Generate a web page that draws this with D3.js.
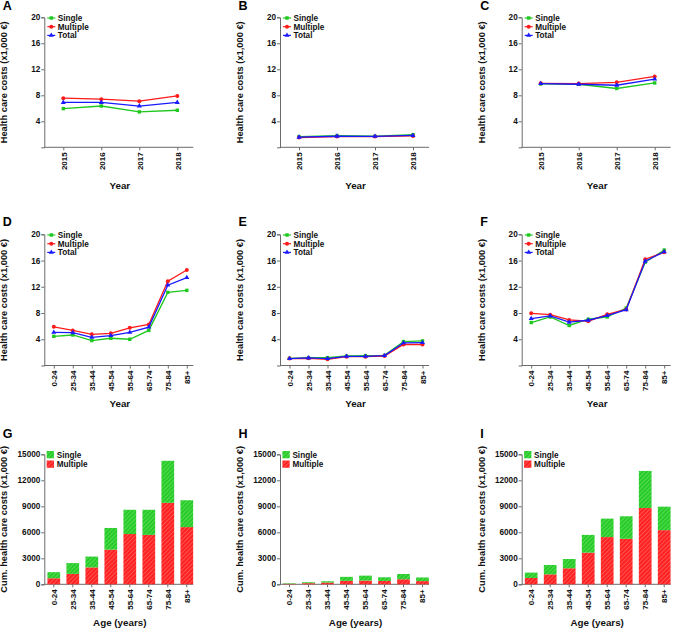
<!DOCTYPE html>
<html>
<head>
<meta charset="utf-8">
<script src="https://cdn.jsdelivr.net/npm/d3@7"></script>
<style>
  html, body { margin: 0; padding: 0; background: #fff; }
  svg { display: block; font-family: "Liberation Sans", Arial, sans-serif; font-weight: bold; }
</style>
</head>
<body>
<svg id="chart" width="676" height="630"></svg>
<script>
// ---------------- DATA ----------------
const years = ["2015", "2016", "2017", "2018"];
const ageGroups = ["0-24", "25-34", "35-44", "45-54", "55-64", "65-74", "75-84", "85+"];
const lineTicks = [4, 8, 12, 16, 20];
const barTicks = [0, 3000, 6000, 9000, 12000, 15000];

const A_single   = [5.95, 6.35, 5.45, 5.7];
const A_multiple = [7.55, 7.4, 7.1, 7.9];
const A_total    = [6.9, 6.9, 6.35, 6.9];

const B_single   = [1.65, 1.8, 1.7, 1.95];
const B_multiple = [1.5, 1.65, 1.65, 1.75];
const B_total    = [1.55, 1.7, 1.68, 1.82];

const C_single   = [9.75, 9.7, 9.05, 9.9];
const C_multiple = [9.85, 9.8, 10.0, 10.9];
const C_total    = [9.8, 9.7, 9.55, 10.5];

const D_single   = [4.45, 4.65, 3.8, 4.15, 4.0, 5.35, 11.15, 11.45];
const D_multiple = [5.9, 5.35, 4.75, 4.9, 5.75, 6.25, 12.85, 14.55];
const D_total    = [5.05, 5.0, 4.3, 4.55, 5.05, 5.85, 12.25, 13.4];

const E_single   = [1.1, 1.2, 1.2, 1.45, 1.5, 1.55, 3.65, 3.75];
const E_multiple = [1.05, 1.1, 0.95, 1.35, 1.35, 1.45, 3.2, 3.2];
const E_total    = [1.05, 1.15, 1.05, 1.4, 1.4, 1.5, 3.45, 3.5];

const F_single   = [6.55, 7.4, 6.1, 7.05, 7.4, 8.75, 15.75, 17.6];
const F_multiple = [7.95, 7.75, 6.95, 6.75, 7.8, 8.55, 16.2, 17.25];
const F_total    = [7.15, 7.55, 6.6, 6.9, 7.6, 8.5, 15.9, 17.35];

const G_multiple = [700, 1200, 1950, 4000, 5800, 5700, 9400, 6600];
const G_single   = [700, 1250, 1250, 2500, 2800, 2900, 4850, 3100];

const H_multiple = [60, 130, 200, 400, 430, 390, 580, 370];
const H_single   = [60, 110, 150, 460, 570, 420, 610, 420];

const I_multiple = [730, 1150, 1850, 3650, 5450, 5250, 8800, 6250];
const I_single   = [620, 1080, 1070, 2050, 2130, 2600, 4280, 2710];

const seriesNames = ["Single", "Multiple", "Total"];
const yTitleLine = "Health care costs (x1,000 \u20AC)";
const yTitleBar = "Cum. health care costs (x1,000 \u20AC)";

// ---------------- STYLE / LAYOUT ----------------
const colors = { Single: "#1ec81e", Multiple: "#ff1a1a", Total: "#1a1aff" };
const barColors = { Single: "#26cc26", Multiple: "#ff2020" };
const axisColor = "#6b6b6b";
const colX = [44.3, 280, 521.7];
const rowTop = [17.3, 234.3, 454.3];
const rowBottom = [147.3, 365.5, 584.3];
const plotW = 152;
const axisLen = 149;

const svg = d3.select("#chart");
const defs = svg.append("defs");
function makeHatch(id, color) {
  const p = defs.append("pattern")
    .attr("id", id).attr("patternUnits", "userSpaceOnUse")
    .attr("width", 3).attr("height", 3)
    .attr("patternTransform", "rotate(45)");
  p.append("rect").attr("width", 3).attr("height", 3).attr("fill", color);
  p.append("line").attr("x1", 0).attr("y1", 0).attr("x2", 0).attr("y2", 3)
    .attr("stroke", "#ffffff").attr("stroke-opacity", 0.5).attr("stroke-width", 0.9);
}
makeHatch("hatchSingle", barColors.Single);
makeHatch("hatchMultiple", barColors.Multiple);

function marker(g, type, x, y, color) {
  if (type === "Single") {
    g.append("rect").attr("x", x - 1.7).attr("y", y - 1.7).attr("width", 3.4).attr("height", 3.4).attr("fill", color);
  } else if (type === "Multiple") {
    g.append("circle").attr("cx", x).attr("cy", y).attr("r", 2).attr("fill", color);
  } else {
    g.append("path").attr("d", d3.symbol(d3.symbolTriangle, 11)()).attr("transform", `translate(${x},${y})`).attr("fill", color);
  }
}

function styleAxis(g) {
  g.selectAll("path.domain").attr("stroke", axisColor).attr("stroke-width", 1);
  g.selectAll(".tick line").attr("stroke", axisColor);
  g.selectAll(".tick text").attr("fill", "#111").attr("font-family", "Liberation Sans, Arial, sans-serif").attr("font-weight", "bold");
}

function panelFrame(label, col, row, yScale, yTicks, xCats, yTitle, xTitle, isBar) {
  const ox = colX[col];
  const g = svg.append("g");
  const x = isBar
    ? d3.scaleBand().domain(xCats).range([ox, ox + plotW]).paddingInner(0.33).paddingOuter(0.165)
    : d3.scalePoint().domain(xCats).range([ox, ox + plotW]).padding(0.5);

  // y axis
  const ya = g.append("g").attr("transform", `translate(${ox},0)`)
    .call(d3.axisLeft(yScale).tickValues(yTicks).tickSize(3).tickPadding(1).tickFormat(d3.format("d")));
  ya.selectAll(".tick text").attr("font-size", 8.2);
  styleAxis(ya);

  // x axis
  const xa = g.append("g").attr("transform", `translate(0,${rowBottom[row]})`)
    .call(d3.axisBottom(x).tickSize(3).tickPadding(2).tickSizeOuter(0));
  xa.select("path.domain").attr("d", `M${ox},0H${ox + axisLen}`);
  xa.selectAll(".tick text")
    .attr("font-size", 8)
    .attr("transform", "rotate(-90)")
    .attr("text-anchor", "end")
    .attr("x", -5).attr("y", 0)
    .attr("dy", "0.34em");
  styleAxis(xa);

  // titles
  const yMid = (rowTop[row] + rowBottom[row]) / 2;
  g.append("text").attr("transform", `translate(${ox - 37},${yMid}) rotate(-90)`)
    .attr("text-anchor", "middle").attr("font-size", 9.3).attr("fill", "#111").text(yTitle);
  g.append("text").attr("x", ox + axisLen / 2 + 1).attr("y", rowBottom[row] + 41.4)
    .attr("text-anchor", "middle").attr("font-size", 9.8).attr("fill", "#111").text(xTitle);
  g.append("text").attr("x", ox - 41.5).attr("y", rowTop[row] - (row === 0 ? 7.5 : 8.8) + (row === 2 ? -7.5 : 0))
    .attr("font-size", 12.5).attr("fill", "#000").text(label);
  return { g, x, ox };
}

function linePanel(label, col, row, cats, single, multiple, total) {
  const y = d3.scaleLinear().domain([0, 20]).range([rowBottom[row], rowTop[row]]);
  const { g, x, ox } = panelFrame(label, col, row, y, lineTicks, cats, yTitleLine, "Year", false);
  const data = { Single: single, Multiple: multiple, Total: total };
  const line = d3.line().x((d, i) => x(cats[i])).y(d => y(d));
  ["Single", "Multiple", "Total"].forEach(name => {
    g.append("path").datum(data[name]).attr("d", line)
      .attr("fill", "none").attr("stroke", colors[name]).attr("stroke-width", 1.3);
    data[name].forEach((v, i) => marker(g, name, x(cats[i]), y(v), colors[name]));
  });
  // legend
  seriesNames.forEach((name, i) => {
    const ly = rowTop[row] + 0.7 + i * 8.7;
    g.append("line").attr("x1", ox + 3).attr("x2", ox + 11).attr("y1", ly).attr("y2", ly)
      .attr("stroke", colors[name]).attr("stroke-width", 1.2);
    marker(g, name, ox + 7, ly, colors[name]);
    g.append("text").attr("x", ox + 13.5).attr("y", ly + 2.9).attr("font-size", 8.2).attr("fill", "#111").text(name);
  });
}

function barPanel(label, col, multiple, single) {
  const row = 2;
  const y = d3.scaleLinear().domain([0, 15000]).range([rowBottom[row], rowTop[row]]);
  const { g, x, ox } = panelFrame(label, col, row, y, barTicks, ageGroups, yTitleBar, "Age (years)", true);
  const stacked = d3.stack().keys(["Multiple", "Single"])(
    ageGroups.map((a, i) => ({ age: a, Multiple: multiple[i], Single: single[i] })));
  stacked.forEach(layer => {
    g.append("g").selectAll("rect").data(layer).join("rect")
      .attr("x", d => x(d.data.age)).attr("width", x.bandwidth())
      .attr("y", d => y(d[1])).attr("height", d => y(d[0]) - y(d[1]))
      .attr("fill", `url(#hatch${layer.key})`);
  });
  ["Single", "Multiple"].forEach((name, i) => {
    const top = rowTop[row] - 3.3 + i * 9.5;
    g.append("rect").attr("x", ox + 2.4).attr("y", top).attr("width", 7.3).attr("height", 7.3)
      .attr("fill", `url(#hatch${name})`);
    g.append("text").attr("x", ox + 12.4).attr("y", top + 6.5).attr("font-size", 8.2).attr("fill", "#111").text(name);
  });
}

linePanel("A", 0, 0, years, A_single, A_multiple, A_total);
linePanel("B", 1, 0, years, B_single, B_multiple, B_total);
linePanel("C", 2, 0, years, C_single, C_multiple, C_total);
linePanel("D", 0, 1, ageGroups, D_single, D_multiple, D_total);
linePanel("E", 1, 1, ageGroups, E_single, E_multiple, E_total);
linePanel("F", 2, 1, ageGroups, F_single, F_multiple, F_total);
barPanel("G", 0, G_multiple, G_single);
barPanel("H", 1, H_multiple, H_single);
barPanel("I", 2, I_multiple, I_single);
</script>
</body>
</html>
